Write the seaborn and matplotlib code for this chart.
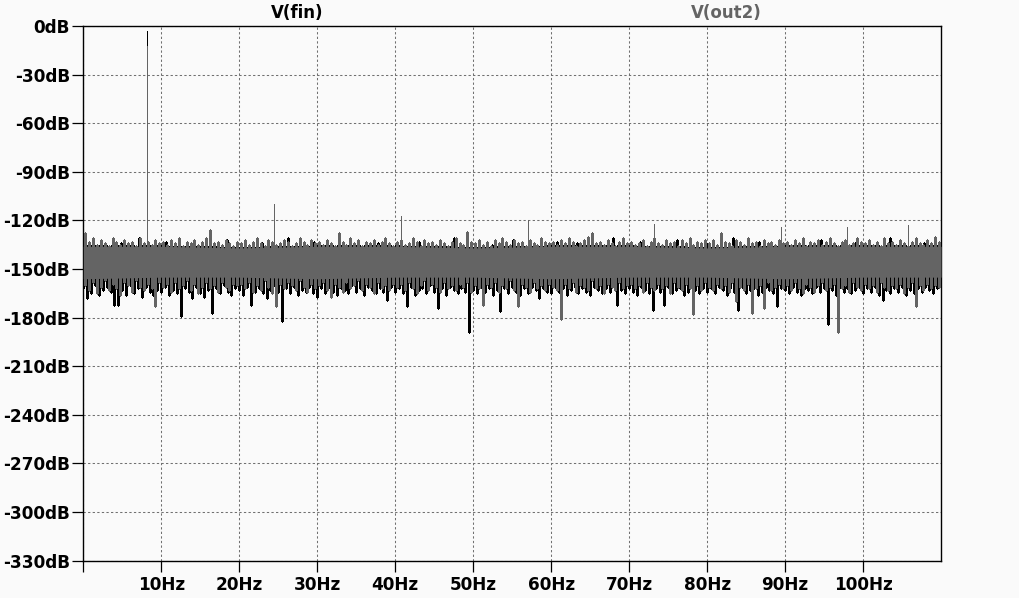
import numpy as np
import pandas as pd
import matplotlib
matplotlib.use("Agg")
import matplotlib.pyplot as plt
import seaborn as sns

# ---------- data ----------
# fundamental line of each trace
fin_peak_hz, fin_peak_db = 8.12, -3.0
out2_peak_hz, out2_peak_db = 8.20, -12.5

# harmonic residues that stick out of the V(out2) noise
harm_hz = [24.4, 40.7, 57.0, 73.2, 89.5, 97.9, 105.8]
harm_db = [-110, -117, -120, -122, -124, -124, -123]

# solid core of the V(out2) noise floor
band_hz = [0, 10, 20, 30, 40, 50, 60, 70, 80, 90, 100, 110]
band_top = [-136, -136, -137, -136, -136, -137, -136, -136, -137, -136, -136, -136]
band_bot = [-156, -155, -155, -156, -155, -155, -156, -155, -155, -156, -155, -155]

# V(out2) noise extremes, 0.5 Hz bins
out2_bins_hz = np.arange(0.25, 110, 0.5)
out2_hi = [
    -128, -133, -131, -135, -132, -134, -136, -131, -133, -135, -132, -134, -133, -136, -131, -134, -133, -135, -132, -134,
    -133, -135, -132, -134, -131, -136, -133, -134, -132, -135, -133, -131, -126, -134, -133, -135, -132, -134, -136, -133,
    -134, -132, -135, -133, -131, -134, -136, -132, -133, -135, -134, -132, -133, -136, -134, -131, -133, -135, -132, -134,
    -133, -135, -132, -134, -136, -128, -133, -135, -131, -134, -132, -136, -133, -134, -132, -135, -133, -131, -134, -136,
    -133, -132, -135, -134, -131, -133, -136, -132, -134, -133, -135, -132, -134, -136, -133, -131, -134, -135, -127, -133,
    -134, -132, -135, -133, -136, -132, -134, -131, -133, -135, -132, -134, -133, -136, -132, -134, -135, -131, -133, -134,
    -133, -135, -132, -134, -131, -133, -136, -134, -132, -130, -128, -134, -133, -135, -132, -134, -136, -133, -131, -134,
    -133, -135, -134, -132, -136, -133, -131, -134, -135, -132, -134, -133, -136, -132, -134, -131, -135, -133, -134, -132,
    -134, -132, -135, -128, -133, -134, -136, -132, -133, -135, -131, -134, -133, -136, -132, -134, -133, -135, -132, -134,
    -133, -135, -132, -134, -131, -136, -133, -134, -132, -135, -133, -131, -134, -136, -133, -132, -135, -134, -131, -133,
    -134, -132, -135, -133, -136, -131, -134, -133, -135, -132, -134, -136, -133, -131, -134, -135, -132, -134, -130, -133,
]
out2_lo = [
    -160, -163, -158, -165, -161, -157, -163, -159, -162, -166, -158, -160, -164, -157, -161, -163, -159, -162, -173, -158,
    -161, -159, -164, -158, -162, -160, -157, -163, -159, -165, -161, -158, -162, -160, -164, -158, -161, -163, -159, -160,
    -159, -162, -158, -164, -160, -163, -157, -161, -165, -173, -159, -162, -158, -160, -163, -157, -161, -164, -159, -162,
    -160, -158, -163, -167, -159, -161, -164, -158, -162, -160, -157, -163, -159, -161, -165, -158, -162, -160, -163, -159,
    -161, -159, -163, -158, -162, -165, -160, -157, -163, -159, -161, -164, -158, -162, -160, -163, -159, -161, -158, -164,
    -160, -162, -172, -159, -161, -158, -164, -160, -162, -157, -163, -173, -159, -161, -164, -158, -162, -160, -163, -159,
    -161, -163, -181, -159, -162, -158, -164, -160, -161, -163, -157, -162, -160, -165, -159, -161, -163, -158, -162, -160,
    -159, -162, -160, -164, -158, -161, -163, -159, -162, -160, -165, -158, -161, -163, -159, -162, -178, -160, -163, -158,
    -161, -163, -159, -162, -160, -164, -158, -170, -161, -163, -159, -177, -162, -160, -174, -158, -163, -161, -159, -162,
    -160, -163, -158, -162, -165, -159, -161, -164, -160, -158, -163, -161, -159, -189, -162, -160, -164, -158, -161, -163,
    -159, -162, -160, -164, -158, -161, -163, -160, -162, -159, -165, -161, -158, -173, -160, -163, -159, -162, -160, -161,
]

# V(fin) noise lower extremes, 0.5 Hz bins
fin_bins_hz = np.arange(0.0, 110, 0.5)
fin_lo = [
    -162, -168, -165, -160, -166, -163, -161, -164, -172, -172, -163, -166, -160, -165, -162, -167, -161, -164, -166, -163,
    -164, -161, -166, -163, -165, -179, -162, -164, -168, -161, -165, -167, -163, -177, -162, -165, -160, -164, -166, -162,
    -163, -166, -161, -172, -164, -162, -165, -168, -163, -160, -164, -182, -162, -165, -161, -166, -163, -164, -161, -165,
    -167, -162, -165, -161, -164, -166, -162, -163, -165, -160, -164, -162, -166, -161, -163, -165, -162, -164, -169, -161,
    -164, -162, -165, -173, -161, -166, -163, -162, -165, -160, -164, -174, -162, -166, -161, -163, -165, -162, -164, -189,
    -163, -165, -161, -164, -162, -166, -163, -176, -162, -165, -161, -164, -166, -162, -165, -161, -163, -168, -162, -164,
    -165, -161, -164, -162, -166, -163, -161, -165, -162, -164, -166, -161, -163, -165, -162, -164, -161, -172, -163, -165,
    -162, -164, -166, -161, -163, -165, -175, -162, -164, -172, -161, -165, -163, -162, -166, -164, -161, -163, -165, -162,
    -164, -162, -165, -161, -163, -166, -162, -164, -175, -161, -165, -163, -162, -166, -164, -161, -163, -165, -173, -162,
    -163, -165, -161, -164, -166, -162, -163, -165, -161, -164, -162, -184, -163, -166, -161, -164, -162, -165, -163, -161,
    -165, -162, -164, -161, -166, -169, -163, -165, -162, -164, -161, -166, -163, -165, -162, -164, -161, -163, -165, -162,
]

# V(fin) spikes poking above the grey band
fin_up_hz = [1.3, 4.8, 7.2, 10.6, 14.1, 18.4, 22.9, 26.3, 29.6, 34.2, 37.8, 43.1, 47.6, 52.4,
             55.1, 60.8, 63.3, 67.9, 71.4, 76.2, 79.8, 83.3, 86.7, 91.2, 94.6, 99.1, 103.4, 107.8]
fin_up_db = [-132, -134, -131, -133, -135, -132, -134, -131, -133, -132, -134, -133, -131, -135,
             -132, -133, -134, -131, -133, -132, -134, -131, -133, -135, -132, -133, -131, -134]

y_ticks = list(range(-330, 1, 30))
x_ticks = list(range(0, 101, 10))

GREY = "#646464"
BG = "#fafafa"


# ---------- helper: vertical segments as one long table ----------
def segments(hz, lo, hi):
    rows = []
    for i, (f, a, b) in enumerate(zip(hz, lo, hi)):
        rows.append((f, a, i))
        rows.append((f, b, i))
    return pd.DataFrame(rows, columns=["hz", "db", "unit"])


sns.set_theme(style="ticks")
plt.rcParams["font.family"] = ["DejaVu Sans"]

fig = plt.figure(figsize=(10.2, 5.98), dpi=100, facecolor=BG)
ax = fig.add_axes([83.3 / 1020, 1 - 560.7 / 598, (941 - 83.3) / 1020, (560.7 - 26) / 598])
ax.set_facecolor(BG)

core_top = np.interp(fin_bins_hz, band_hz, band_top)
core_top_up = np.interp(fin_up_hz, band_hz, band_top)

# V(fin) in black (drawn first, grey trace covers it)
fin_df = pd.concat([
    segments(fin_bins_hz, fin_lo, core_top),
    segments(fin_up_hz, core_top_up, fin_up_db).assign(unit=lambda d: d["unit"] + 1000),
])
sns.lineplot(data=fin_df, x="hz", y="db", units="unit", estimator=None, sort=False,
             color="black", lw=1.0, antialiased=False, ax=ax, legend=False, zorder=3)
ax.vlines([fin_peak_hz], -140, [fin_peak_db], color="black", lw=0.72,
          antialiased=False, zorder=3)

# V(out2) in grey
ax.fill_between(band_hz, band_bot, band_top, color=GREY, lw=0, zorder=4)
out2_df = segments(out2_bins_hz, out2_lo, out2_hi)
sns.lineplot(data=out2_df, x="hz", y="db", units="unit", estimator=None, sort=False,
             color=GREY, lw=1.0, antialiased=False, ax=ax, legend=False, zorder=5)
ax.vlines(harm_hz + [out2_peak_hz], -140, harm_db + [out2_peak_db], color=GREY,
          lw=0.72, antialiased=False, zorder=5)

# ---------- axes styling ----------
ax.set_xlim(0, 110)
ax.set_ylim(-330, 0)
ax.set_xticks(x_ticks)
ax.set_xticklabels(["" if v == 0 else f"{v}Hz" for v in x_ticks])
ax.set_yticks(y_ticks)
ax.set_yticklabels([f"{v}dB" for v in y_ticks])
ax.set_xlabel("")
ax.set_ylabel("")

ax.grid(True, color="#707070", lw=0.75, ls=(0, (2.2, 2.2)))
ax.set_axisbelow(True)
for sp in ax.spines.values():
    sp.set_visible(True)
    sp.set_color("black")
    sp.set_linewidth(1.0)

ax.tick_params(axis="both", direction="out", length=8, width=0.9, color="black",
               labelcolor="black", labelsize=12.2)
ax.tick_params(axis="y", pad=1.5)
ax.tick_params(axis="x", pad=3)
for lab in ax.get_xticklabels() + ax.get_yticklabels():
    lab.set_fontweight("bold")

fig.text(297.5 / 1020, 1 - 18.3 / 598, "V(fin)", ha="center", va="baseline",
         fontsize=12, fontweight="bold", color="black")
fig.text(725.8 / 1020, 1 - 18.3 / 598, "V(out2)", ha="center", va="baseline",
         fontsize=12, fontweight="bold", color=GREY)

fig.savefig("out.png", dpi=100, facecolor=BG)
